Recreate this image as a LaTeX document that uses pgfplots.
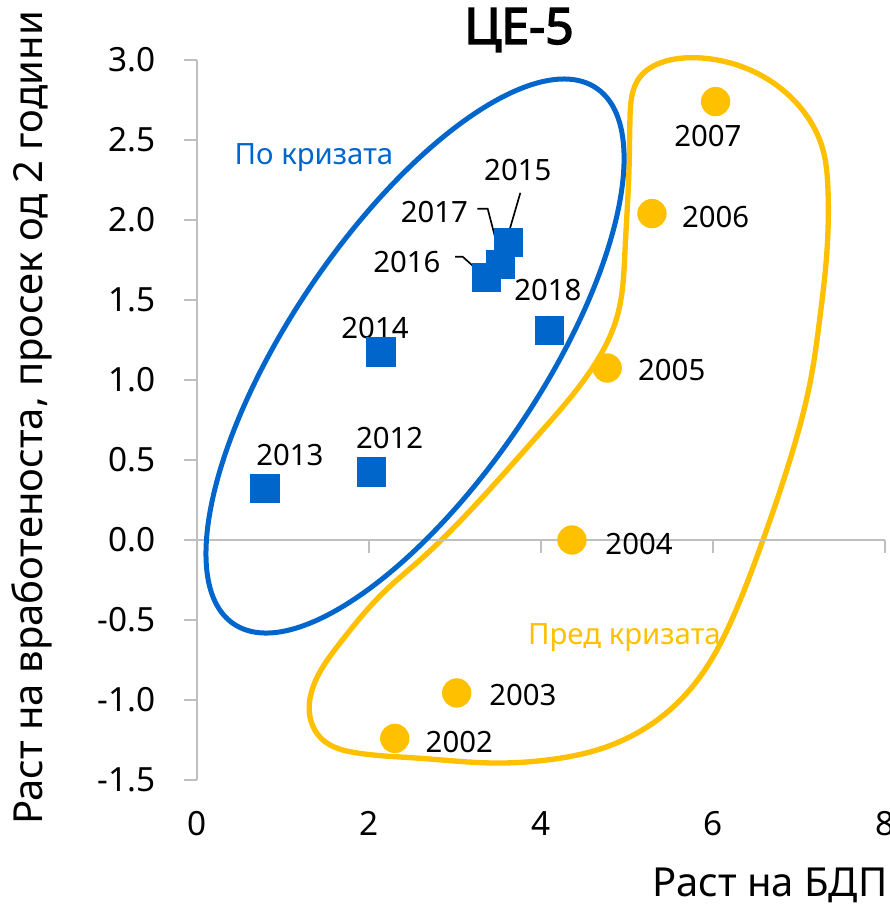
\documentclass[border=0pt]{standalone}
\usepackage{fontspec}
\setmainfont{Noto Sans}
\newfontfamily\titlefont{Noto Sans}[FakeBold=3]
\usepackage{pgfplots}
\pgfplotsset{compat=1.18}
\usetikzlibrary{hobby}
\definecolor{cblue}{RGB}{0,102,204}
\definecolor{cyel}{RGB}{255,192,0}
\definecolor{axgray}{RGB}{191,191,191}
\begin{document}
\begin{tikzpicture}
\begin{axis}[
  scale only axis,
  width=206.4pt, height=216pt,
  xmin=0, xmax=8, ymin=-1.5, ymax=3,
  clip=false,
  axis y line*=left,
  axis x line*=bottom,
  x axis line style={draw=none},
  y axis line style={draw=axgray, line width=0.6pt},
  xtick={0,2,4,6,8},
  ytick={-1.5,-1,-0.5,0,0.5,1,1.5,2,2.5,3},
  xtick style={draw=none},
  ytick style={draw=axgray, line width=0.6pt},
  tick align=outside,
  major tick length=4pt,
  /pgf/number format/assume math mode=true,
  yticklabel style={/pgf/number format/fixed, /pgf/number format/fixed zerofill, /pgf/number format/precision=1, font=\fontsize{10}{12}\selectfont, xshift=-5pt},
  xticklabel style={font=\fontsize{10}{12}\selectfont, yshift=-2pt},
]
\coordinate (EC) at (axis cs:2.535,1.15);
% yellow blob
\draw[cyel, line width=1.6pt, use Hobby shortcut, closed=true]
(axis cs:5.151,2.894) .. (axis cs:5.384,2.981) .. (axis cs:5.849,3.013) .. (axis cs:6.430,2.938) .. (axis cs:7.012,2.706) .. (axis cs:7.279,2.438) .. (axis cs:7.337,2.188) .. (axis cs:7.326,1.813) .. (axis cs:7.244,1.394) .. (axis cs:7.128,0.981) .. (axis cs:6.930,0.563) .. (axis cs:6.744,0.25) .. (axis cs:6.581,0.0) .. (axis cs:6.233,-0.481) .. (axis cs:6.0,-0.731) .. (axis cs:5.698,-0.956) .. (axis cs:5.233,-1.169) .. (axis cs:4.651,-1.3125) .. (axis cs:4.070,-1.375) .. (axis cs:3.488,-1.394) .. (axis cs:2.558,-1.363) .. (axis cs:1.860,-1.331) .. (axis cs:1.465,-1.25) .. (axis cs:1.314,-1.106) .. (axis cs:1.349,-0.919) .. (axis cs:1.663,-0.644) .. (axis cs:2.163,-0.331) .. (axis cs:2.593,-0.125) .. (axis cs:3.291,0.25) .. (axis cs:3.988,0.669) .. (axis cs:4.605,1.081) .. (axis cs:4.884,1.394) .. (axis cs:4.977,1.813) .. (axis cs:5.023,2.313) .. (axis cs:5.035,2.644);
% x axis line at 0
\draw[axgray, line width=0.6pt] (axis cs:0,0) -- (axis cs:8,0);
\draw[axgray, line width=0.6pt] (axis cs:2,0) -- (axis cs:2,-0.083);
\draw[axgray, line width=0.6pt] (axis cs:4,0) -- (axis cs:4,-0.083);
\draw[axgray, line width=0.6pt] (axis cs:6,0) -- (axis cs:6,-0.083);
\draw[axgray, line width=0.6pt] (axis cs:8,0) -- (axis cs:8,-0.083);
% data
\addplot[only marks, mark=*, mark size=4.2pt, color=cyel] coordinates {
(6.03,2.74) (5.29,2.04) (4.77,1.075) (4.36,0.0) (3.02,-0.956) (2.30,-1.24)};
\addplot[only marks, mark=square*, mark size=4.2pt, color=cblue] coordinates {
(0.79,0.32) (2.03,0.425) (2.14,1.175) (3.37,1.64) (3.53,1.72) (3.62,1.86) (4.10,1.31)};
% leader lines
\draw[black, line width=0.5pt] (axis cs:3.0,1.77) -- (axis cs:3.09,1.77) -- (axis cs:3.36,1.64);
\draw[black, line width=0.5pt] (axis cs:3.26,2.07) -- (axis cs:3.38,2.07) -- (axis cs:3.55,1.72);
\draw[black, line width=0.5pt] (axis cs:3.76,2.17) -- (axis cs:3.60,1.875);
\draw[black, line width=0.5pt] (axis cs:4.08,1.40) -- (axis cs:4.12,1.31);
% labels
\begin{scope}[every node/.style={font=\fontsize{8.8}{10}\selectfont, inner sep=0pt}]
\node at (axis cs:1.08,0.53) {2013};
\node at (axis cs:2.24,0.64) {2012};
\node at (axis cs:2.07,1.325) {2014};
\node at (axis cs:2.44,1.74) {2016};
\node at (axis cs:2.76,2.05) {2017};
\node at (axis cs:3.73,2.31) {2015};
\node at (axis cs:4.08,1.56) {2018};
\node at (axis cs:5.94,2.525) {2007};
\node at (axis cs:6.03,2.02) {2006};
\node at (axis cs:5.52,1.06) {2005};
\node at (axis cs:5.14,-0.025) {2004};
\node at (axis cs:3.79,-0.97) {2003};
\node at (axis cs:3.05,-1.26) {2002};
\node[text=cblue] at (axis cs:1.36,2.39) {По кризата};
\node[text=cyel] at (axis cs:4.97,-0.61) {Пред кризата};
\end{scope}
\end{axis}
\draw[cblue, line width=1.5pt, rotate around={55.9:(EC)}] (EC) ellipse [x radius=97.05pt, y radius=37.65pt];
\node[font=\fontsize{15}{18}\titlefont] at (96.6pt,225pt) {ЦЕ-5};
\node[rotate=90, font=\fontsize{12}{14}\selectfont] at (-49.5pt,108.6pt) {Раст на вработеноста, просек од 2 години};
\node[anchor=base east, inner sep=0pt, font=\fontsize{12}{14}\selectfont] at (207.3pt,-35.1pt) {Раст на БДП};
\pgfresetboundingbox
\useasboundingbox (-59.1pt,-37.8pt) rectangle (207.6pt,234pt);
\end{tikzpicture}
\end{document}
